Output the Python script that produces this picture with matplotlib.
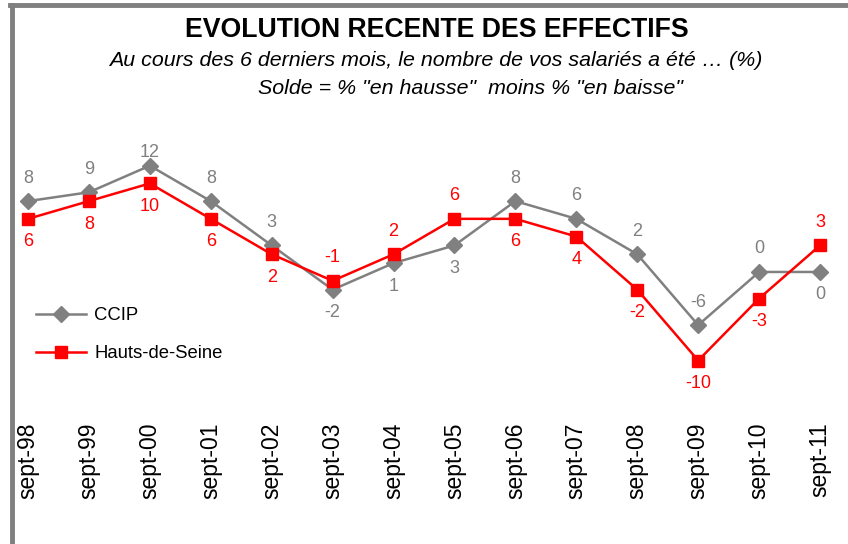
import matplotlib.pyplot as plt
from matplotlib.lines import Line2D

plt.rcParams["font.family"] = ["Liberation Sans", "DejaVu Sans"]

periodes = ["sept-98", "sept-99", "sept-00", "sept-01", "sept-02", "sept-03", "sept-04",
            "sept-05", "sept-06", "sept-07", "sept-08", "sept-09", "sept-10", "sept-11"]
ccip = [8, 9, 12, 8, 3, -2, 1, 3, 8, 6, 2, -6, 0, 0]
hauts_de_seine = [6, 8, 10, 6, 2, -1, 2, 6, 6, 4, -2, -10, -3, 3]

# label placement: +1 above the point, -1 below
pos_ccip = [1, 1, 1, 1, 1, -1, -1, -1, 1, 1, 1, 1, 1, -1]
pos_hds = [-1, -1, -1, -1, -1, 1, 1, 1, -1, -1, -1, -1, -1, 1]

GRIS = "#808080"
ROUGE = "#ff0000"

fig = plt.figure(figsize=(8.48, 5.44), dpi=100)
W, H = 848, 544

# axes placed in pixel terms: x from 3.6 to 844.4, y from 148 to 422.5 (top-down)
ax = fig.add_axes([3.6 / W, (H - 422.5) / H, (844.4 - 3.6) / W, (422.5 - 148) / H])
x = list(range(len(periodes)))
ax.plot(x, ccip, color=GRIS, lw=1.8, marker="D", ms=8, mec=GRIS, mfc=GRIS, label="CCIP", zorder=3)
ax.plot(x, hauts_de_seine, color=ROUGE, lw=1.8, marker="s", ms=9, mec=ROUGE, mfc=ROUGE,
        label="Hauts-de-Seine", zorder=4)
ax.set_xlim(-0.4, 13.4)
ax.set_ylim(-17, 14)

for i, (v, p) in enumerate(zip(ccip, pos_ccip)):
    off = 13 if i == 2 else 23
    ax.annotate(str(v), (i, v), xytext=(0, p * off), textcoords="offset pixels",
                ha="center", va="center", fontsize=13, color=GRIS)
for i, (v, p) in enumerate(zip(hauts_de_seine, pos_hds)):
    ax.annotate(str(v), (i, v), xytext=(0, p * 23), textcoords="offset pixels",
                ha="center", va="center", fontsize=13, color=ROUGE)

ax.set_xticks(x)
ax.set_xticklabels(periodes, rotation=90, fontsize=16.5)
ax.tick_params(axis="x", length=0, pad=0)
ax.set_yticks([])
for s in ax.spines.values():
    s.set_visible(False)

ax.legend(loc="upper left", bbox_to_anchor=(36 / W, 1 - 307 / H), bbox_transform=fig.transFigure,
          frameon=False, fontsize=13.3, handlelength=2.7, handletextpad=0.45, labelspacing=1.15,
          borderaxespad=0, borderpad=0)

fig.text(437 / W, 1 - 30 / H, "EVOLUTION RECENTE DES EFFECTIFS", ha="center", va="center",
         fontsize=19.2, fontweight="bold")
fig.text(436 / W, 1 - 61 / H, "Au cours des 6 derniers mois, le nombre de vos salariés a été … (%)",
         ha="center", va="center", fontsize=15.4, style="italic")
fig.text(471 / W, 1 - 88 / H, 'Solde = % "en hausse"  moins % "en baisse"',
         ha="center", va="center", fontsize=15.4, style="italic")

# grey frame on the left and top edges
fig.add_artist(Line2D([12 / W, 12 / W], [0, 1 - 4.5 / H], color=GRIS, lw=3.5, transform=fig.transFigure))
fig.add_artist(Line2D([10 / W, 1], [1 - 4.5 / H, 1 - 4.5 / H], color=GRIS, lw=3.5, transform=fig.transFigure))

fig.savefig("out.png", dpi=100)
